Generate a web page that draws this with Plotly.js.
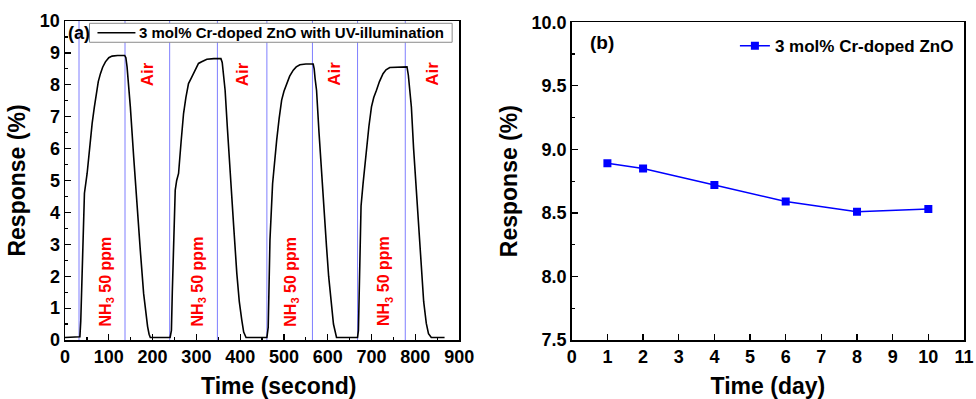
<!DOCTYPE html>
<html>
<head>
<meta charset="utf-8">
<script src="https://cdn.plot.ly/plotly-3.0.1.min.js"></script>
<style>
  html, body { margin: 0; padding: 0; background: #fff; }
  #chart { width: 976px; height: 399px; }
</style>
</head>
<body>
<div id="chart"></div>
<script>
// ---- (a) dynamic response over four NH3 on/off cycles ----
const responseTime = [
  0, 31, 34, 36, 39, 42, 44.4, 50.5, 56, 62, 67, 71.8, 76, 80.9, 86, 92.3, 100, 107.5, 120, 136.3,
  139, 141.7, 145, 149.2, 157, 164.5, 172, 179.5, 185, 188.6, 192, 194.8,
  240, 243, 245, 247.9, 251.7, 255, 259.3, 265, 270.7, 276, 282, 288, 293.4, 299, 304.8, 312, 323.9, 340, 356,
  359, 362, 365.6, 371, 377, 385, 392.3, 398, 403.6, 408, 413.4,
  461, 464, 466, 468, 474, 478, 483.3, 489, 494.7, 500, 506, 513, 521.2, 528, 536.4, 550, 566.7,
  569, 571, 574.4, 580, 585.8, 591, 597.2, 602, 607, 613, 620,
  668, 670, 671.5, 673, 676, 680.6, 684, 688.4, 694, 699.8, 705, 711.2, 718, 726.2, 733, 741.5, 760, 780.9,
  784, 787, 790.9, 796, 802.3, 808, 813.7, 819, 825, 830, 836.4, 866.7
];
const responseValue = [
  0.08, 0.08, 0.1, 0.6, 2.09, 3.8, 4.6, 5.22, 6.0, 6.79, 7.3, 7.73, 8.1, 8.35, 8.55, 8.72, 8.85, 8.9, 8.92, 8.92,
  8.85, 8.56, 8.1, 7.31, 5.7, 4.17, 2.8, 1.46, 0.8, 0.42, 0.18, 0.08,
  0.08, 0.3, 1.5, 3.13, 4.7, 5.0, 5.22, 6.2, 7.1, 7.6, 8.04, 8.2, 8.35, 8.5, 8.67, 8.72, 8.8, 8.82, 8.82,
  8.7, 8.35, 7.83, 6.6, 5.22, 3.6, 2.09, 1.2, 0.63, 0.25, 0.08,
  0.08, 0.4, 1.6, 3.13, 4.9, 5.6, 6.26, 6.95, 7.52, 7.8, 8.04, 8.27, 8.46, 8.56, 8.63, 8.65, 8.65,
  8.5, 8.2, 7.83, 6.5, 5.22, 4.0, 2.92, 2.0, 1.25, 0.5, 0.08,
  0.08, 0.3, 1.5, 3.13, 4.2, 4.9, 5.4, 5.95, 6.7, 7.31, 7.6, 7.83, 8.1, 8.35, 8.47, 8.54, 8.56, 8.56,
  8.3, 7.9, 7.31, 6.0, 4.7, 3.4, 2.09, 1.2, 0.52, 0.2, 0.08, 0.08
];
// gas switching instants (NH3 in / air in), seconds
const switchTimes = [32, 137, 239, 348, 461, 565, 668, 777];
const nh3LabelTimes = [94, 304, 517, 730];
const airLabelTimes = [190, 407, 616, 840];
const nh3LabelLevel = 1.84;
const airLabelLevel = 8.34;

// ---- (b) long-term stability ----
const stabilityDays = [1, 2, 4, 6, 8, 10];
const stabilityResponse = [8.89, 8.85, 8.72, 8.59, 8.51, 8.53];

const seriesA = '3 mol% Cr-doped ZnO with UV-illumination';
const seriesB = '3 mol% Cr-doped ZnO';

const FONT = 'Liberation Sans, Arial, Helvetica, sans-serif';
const bold = (size, color) => ({ family: FONT, size: size, color: color || '#000', weight: 700 });

// figure geometry (pixels); paper coordinates span the inner plot area
const W = 976, H = 399;
const M = { l: 64.5, r: 11.7, t: 20.7, b: 59 };
const PW = W - M.l - M.r, PH = H - M.t - M.b;
const px = x => (x - M.l) / PW;          // page x -> paper x
const py = y => (H - M.b - y) / PH;      // page y -> paper y

const traces = [
  {
    x: responseTime, y: responseValue, xaxis: 'x', yaxis: 'y',
    type: 'scatter', mode: 'lines', name: seriesA, showlegend: false,
    line: { color: '#000', width: 1.6 }
  },
  {
    x: stabilityDays, y: stabilityResponse, xaxis: 'x2', yaxis: 'y2',
    type: 'scatter', mode: 'lines+markers', name: seriesB,
    line: { color: '#0000ff', width: 1.5 },
    marker: { symbol: 'square', size: 8, color: '#0000ff' }
  }
];

const shapes = switchTimes.map(t => ({
  type: 'line', xref: 'x', yref: 'y', x0: t, x1: t, y0: 0, y1: 10,
  line: { color: '#7f7fff', width: 1 }, layer: 'below'
}));
// key box for panel (a)
shapes.push({
  type: 'rect', xref: 'paper', yref: 'paper',
  x0: px(89), x1: px(452), y0: py(42), y1: py(23),
  fillcolor: '#fff', line: { color: '#8a8a8a', width: 1 }, layer: 'above'
});
shapes.push({
  type: 'line', xref: 'paper', yref: 'paper',
  x0: px(97), x1: px(135), y0: py(32.5), y1: py(32.5),
  line: { color: '#000', width: 1.6 }, layer: 'above'
});

const annotations = [];
nh3LabelTimes.forEach(t => annotations.push({
  xref: 'x', yref: 'y', x: t, y: nh3LabelLevel, text: 'NH<sub>3</sub> 50 ppm',
  textangle: -90, showarrow: false, font: bold(16, '#ff0000')
}));
airLabelTimes.forEach(t => annotations.push({
  xref: 'x', yref: 'y', x: t, y: airLabelLevel, text: 'Air',
  textangle: -90, showarrow: false, font: bold(17, '#ff0000')
}));
annotations.push({
  xref: 'paper', yref: 'paper', x: px(137), y: py(32.5), xanchor: 'left', yanchor: 'middle',
  text: seriesA, showarrow: false, font: bold(15)
});
annotations.push({
  xref: 'paper', yref: 'paper', x: px(66), y: py(32.5), xanchor: 'left', yanchor: 'middle',
  text: '(a)', showarrow: false, font: bold(18)
});
annotations.push({
  xref: 'paper', yref: 'paper', x: px(588), y: py(42), xanchor: 'left', yanchor: 'middle',
  text: '(b)', showarrow: false, font: bold(19)
});
annotations.push({
  xref: 'paper', yref: 'paper', x: px(279), y: py(386), xanchor: 'center', yanchor: 'middle',
  text: 'Time (second)', showarrow: false, font: bold(23)
});

const axisCommon = {
  showline: true, linecolor: '#000', linewidth: 1.5, mirror: true,
  ticks: 'inside', ticklen: 6, tickwidth: 1.2, tickcolor: '#000',
  showgrid: false, zeroline: false, automargin: false,
  tickfont: bold(18)
};

const layout = {
  width: W, height: H,
  margin: { l: M.l, r: M.r, t: M.t, b: M.b, pad: 0 },
  paper_bgcolor: '#fff', plot_bgcolor: '#fff',
  showlegend: true,
  xaxis: Object.assign({}, axisCommon, {
    domain: [0, px(459)], range: [0, 900], dtick: 100, tick0: 0,
    minor: { dtick: 50, ticks: 'inside', ticklen: 3, tickcolor: '#000' },
    anchor: 'y'
  }),
  yaxis: Object.assign({}, axisCommon, {
    domain: [0, 1], range: [0, 10], dtick: 1, tick0: 0,
    minor: { dtick: 0.5, ticks: 'inside', ticklen: 3, tickcolor: '#000' },
    anchor: 'x',
    title: { text: 'Response (%)', font: bold(23), standoff: 8 }
  }),
  xaxis2: Object.assign({}, axisCommon, {
    domain: [px(571.7), 1], range: [0, 11], dtick: 1, tick0: 0,
    anchor: 'y2',
    title: { text: 'Time (day)', font: bold(23), standoff: 12 }
  }),
  yaxis2: Object.assign({}, axisCommon, {
    domain: [0, py(22)], range: [7.5, 10], dtick: 0.5, tick0: 7.5,
    tickformat: '.1f',
    minor: { dtick: 0.25, ticks: 'inside', ticklen: 3, tickcolor: '#000' },
    anchor: 'x2',
    title: { text: 'Response (%)', font: bold(23), standoff: 7 }
  }),
  legend: {
    x: px(735), y: py(28), xanchor: 'left', yanchor: 'top',
    bgcolor: 'rgba(0,0,0,0)', borderwidth: 0,
    font: bold(17)
  },
  shapes: shapes,
  annotations: annotations
};

Plotly.newPlot('chart', traces, layout, { displayModeBar: false, staticPlot: true });
</script>
</body>
</html>
